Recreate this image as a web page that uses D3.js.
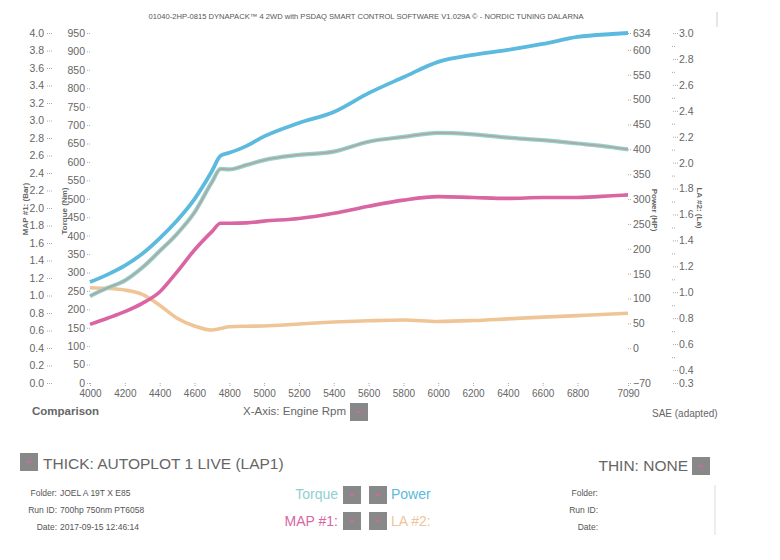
<!DOCTYPE html>
<html><head><meta charset="utf-8">
<script src="https://cdn.jsdelivr.net/npm/d3@7"></script>
<style>
body{margin:0;background:#fff;}
svg{font-family:"Liberation Sans",Arial,sans-serif;}
</style></head>
<body><svg id="c" width="780" height="560"></svg>
<script>
const rpm    = [4000,4100,4200,4300,4400,4500,4600,4700,4750,4800,4900,5000,5200,5400,5600,5800,6000,6200,6400,6600,6800,7000,7090];
const power  = [133,148,166,190,221,257,300,356,387,393,407,426,453,475,513,545,576,590,600,612,626,632,634];
const torque = [236,258,278,313,358,405,463,545,581,580,592,605,619,628,655,668,679,675,666,659,650,640,634];
const map1   = [0.67,0.74,0.815,0.91,1.04,1.27,1.52,1.73,1.825,1.825,1.83,1.85,1.88,1.94,2.02,2.09,2.13,2.12,2.11,2.12,2.12,2.14,2.15];
const la2    = [1.035,1.03,1.017,0.984,0.90,0.80,0.74,0.709,0.72,0.734,0.738,0.74,0.755,0.77,0.78,0.786,0.775,0.782,0.795,0.808,0.82,0.832,0.838];

const xTicks = [4000,4200,4400,4600,4800,5000,5200,5400,5600,5800,6000,6200,6400,6600,6800,7090];
const mapTicks = [0,0.2,0.4,0.6,0.8,1.0,1.2,1.4,1.6,1.8,2.0,2.2,2.4,2.6,2.8,3.0,3.2,3.4,3.6,3.8,4.0];
const torqueTicks = d3.range(0,951,50);
const powerTicks = [-70,0,50,100,150,200,250,300,350,400,450,500,550,600,634];
const laTicks = [0.3,0.4,0.6,0.8,1.0,1.2,1.4,1.6,1.8,2.0,2.2,2.4,2.6,2.8,3.0];
const laMinor = [0.5,0.7,0.9,1.1,1.3,1.5,1.7,1.9,2.1,2.3,2.5,2.7,2.9];

const svg = d3.select("#c");
const L=90,R=628,T=33,B=383;
const x = d3.scaleLinear().domain([4000,7090]).range([L,R]);
const yMap = d3.scaleLinear().domain([0,4]).range([B,T]);
const yTq = d3.scaleLinear().domain([0,950]).range([B,T]);
const yPw = d3.scaleLinear().domain([-70,634]).range([B,T]);
const yLa = d3.scaleLinear().domain([0.3,3.0]).range([B,T]);
const grey="#666";

function styleAxis(g){
  g.select(".domain").remove();
  g.selectAll(".tick line").attr("stroke","#aaa").attr("stroke-dasharray","1,1");
  g.selectAll(".tick text").attr("fill",grey).style("font-size","10.5px").style("font-family","Liberation Sans, Arial, sans-serif");
}
// title
svg.append("text").attr("x",366).attr("y",19).attr("text-anchor","middle")
  .attr("fill","#555").style("font-size","7.6px").text("01040-2HP-0815 DYNAPACK\u2122 4 2WD with PSDAQ SMART CONTROL SOFTWARE V1.029A \u00a9 - NORDIC TUNING DALARNA");
svg.append("line").attr("x1",717).attr("x2",717).attr("y1",12).attr("y2",27).attr("stroke","#ccc");

// axes
svg.append("g").attr("transform",`translate(52,0)`).call(d3.axisLeft(yMap).tickValues(mapTicks).tickFormat(d3.format(".1f")).tickSize(6).tickPadding(2)).call(styleAxis);
svg.append("g").attr("transform",`translate(90,0)`).call(d3.axisLeft(yTq).tickValues(torqueTicks).tickSize(3).tickPadding(2)).call(styleAxis);
svg.append("g").attr("transform",`translate(${R},0)`).call(d3.axisRight(yPw).tickValues(powerTicks).tickSize(4).tickPadding(1)).call(styleAxis);
svg.append("g").attr("transform",`translate(678,0)`).call(d3.axisLeft(yLa).tickValues(laTicks).tickFormat(d3.format(".1f")).tickSize(5).tickPadding(-22)).call(styleAxis)
  .selectAll(".tick text").attr("text-anchor","start").attr("x",1);
svg.append("g").attr("transform",`translate(672,0)`).call(d3.axisRight(yLa).tickValues(laMinor).tickSize(4).tickFormat("")).call(styleAxis);
svg.append("g").attr("transform",`translate(0,${B})`).call(d3.axisBottom(x).tickValues(xTicks).tickFormat(d3.format("d")).tickSize(3).tickPadding(4)).call(styleAxis)
  .selectAll(".tick text").style("font-size","10px");

// axis titles
function vtitle(txt,xx,yy,rot){
  svg.append("text").attr("transform",`translate(${xx},${yy}) rotate(${rot})`).attr("text-anchor","middle")
   .attr("fill",grey).style("font-size","8px").style("font-weight","bold").text(txt);
}
vtitle("MAP #1: (Bar)",28,209,-90);
vtitle("Torque (Nm)",67,211,-90);
vtitle("Power (HP)",652,210,90);
vtitle("LA #2: (La)",697,208,90);

// lines
const idx = d3.range(rpm.length);
function line(ys, yScale){ return d3.line().x(i=>x(rpm[i])).y(i=>yScale(ys[i])).curve(d3.curveMonotoneX)(idx); }
svg.append("path").attr("d",line(la2,yLa)).attr("fill","none").attr("stroke","#efc598").attr("stroke-width",3.6);
svg.append("path").attr("d",line(map1,yMap)).attr("fill","none").attr("stroke","#d965a3").attr("stroke-width",3.6);
svg.append("path").attr("d",line(torque,yTq)).attr("fill","none").attr("stroke","#93d2d2").attr("stroke-width",4.2);
svg.append("path").attr("d",line(torque,yTq)).attr("fill","none").attr("stroke","#aea89e").attr("stroke-width",1.8);
svg.append("path").attr("d",line(power,yPw)).attr("fill","none").attr("stroke","#5bbadd").attr("stroke-width",3.8);

// bottom labels
function box(xx,yy,w){
  svg.append("rect").attr("x",xx).attr("y",yy).attr("width",w).attr("height",w).attr("fill","#888");
  svg.append("line").attr("x1",xx+w/2-2).attr("x2",xx+w/2+2).attr("y1",yy+w/2).attr("y2",yy+w/2).attr("stroke","#e060a8").attr("stroke-width",1.5);
}
svg.append("text").attr("x",32).attr("y",415).attr("fill",grey).style("font-size","11.5px").style("font-weight","bold").text("Comparison");
svg.append("text").attr("x",346).attr("y",415).attr("text-anchor","end").attr("fill",grey).style("font-size","11.5px").text("X-Axis: Engine Rpm");
box(350,403,18);
svg.append("text").attr("x",652).attr("y",417).attr("fill",grey).style("font-size","10px").text("SAE (adapted)");

box(20,453,18);
svg.append("text").attr("x",43).attr("y",469).attr("fill","#666").style("font-size","15.5px").text("THICK: AUTOPLOT 1 LIVE (LAP1)");
svg.append("text").attr("x",688).attr("y",471).attr("text-anchor","end").attr("fill","#666").style("font-size","15.5px").text("THIN: NONE");
box(692,457,18);

const leftLabels=["Folder:","Run ID:","Date:"], leftVals=["JOEL A 19T X E85","700hp 750nm PT6058","2017-09-15 12:46:14"];
leftLabels.forEach((t,i)=>{
  const yy=496+i*17;
  svg.append("text").attr("x",57).attr("y",yy).attr("text-anchor","end").attr("fill","#555").style("font-size","8.5px").text(t);
  svg.append("text").attr("x",60).attr("y",yy).attr("fill","#555").style("font-size","8.5px").text(leftVals[i]);
  svg.append("text").attr("x",598).attr("y",yy).attr("text-anchor","end").attr("fill","#555").style("font-size","8.5px").text(t);
});
svg.append("line").attr("x1",715).attr("x2",715).attr("y1",485).attr("y2",535).attr("stroke","#ddd");

svg.append("text").attr("x",338).attr("y",499).attr("text-anchor","end").attr("fill","#8fd0d0").style("font-size","14px").text("Torque");
box(343,486,18); box(369,486,18);
svg.append("text").attr("x",391).attr("y",499).attr("fill","#5bbadd").style("font-size","14px").text("Power");
svg.append("text").attr("x",338).attr("y",526).attr("text-anchor","end").attr("fill","#d965a3").style("font-size","14px").text("MAP #1:");
box(343,512,18); box(369,512,18);
svg.append("text").attr("x",391).attr("y",526).attr("fill","#efc598").style("font-size","14px").text("LA #2:");
</script></body></html>
